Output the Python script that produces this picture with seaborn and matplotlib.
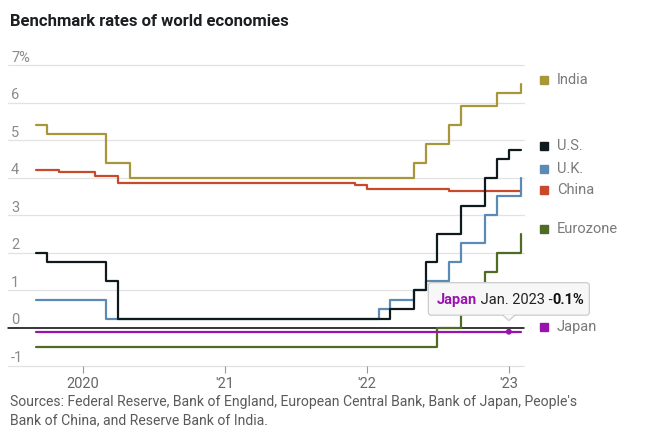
import matplotlib
matplotlib.use("Agg")
import matplotlib.pyplot as plt
import matplotlib.dates as mdates
import matplotlib.transforms as mtransforms
from matplotlib.patches import FancyBboxPatch, Polygon
import seaborn as sns
import pandas as pd

# ---------------- data (monthly values, step changes) ----------------
india_dates = ["2019-09", "2019-10", "2020-03", "2020-05", "2022-05", "2022-06",
               "2022-08", "2022-09", "2022-12", "2023-02"]
india_vals = [5.40, 5.15, 4.40, 4.00, 4.40, 4.90, 5.40, 5.90, 6.25, 6.50]

us_dates = ["2019-09", "2019-10", "2020-03", "2020-04", "2022-03", "2022-05",
            "2022-06", "2022-07", "2022-09", "2022-11", "2022-12", "2023-01", "2023-02"]
us_vals = [2.00, 1.75, 1.25, 0.25, 0.50, 1.00, 1.75, 2.50, 3.25, 4.00, 4.50, 4.75, 4.75]

uk_dates = ["2019-09", "2020-03", "2022-02", "2022-03", "2022-05", "2022-06",
            "2022-08", "2022-09", "2022-11", "2022-12", "2023-02"]
uk_vals = [0.75, 0.25, 0.50, 0.75, 1.00, 1.25, 1.75, 2.25, 3.00, 3.50, 4.00]

china_dates = ["2019-09", "2019-11", "2020-02", "2020-04", "2021-12", "2022-01",
               "2022-08", "2023-02"]
china_vals = [4.20, 4.15, 4.05, 3.85, 3.80, 3.70, 3.65, 3.65]

euro_dates = ["2019-09", "2022-07", "2022-09", "2022-11", "2022-12", "2023-02"]
euro_vals = [-0.50, 0.00, 0.75, 1.50, 2.00, 2.50]

japan_dates = ["2019-09", "2023-02"]
japan_vals = [-0.10, -0.10]

economies = ["Eurozone", "India", "China", "U.K.", "U.S.", "Japan"]
colors = {"India": "#a8963a", "U.S.": "#0f1a1c", "U.K.": "#5b8ab6",
          "China": "#c74a2c", "Eurozone": "#4f6b24", "Japan": "#9a12ae"}

x_ticks = ["2020-01-01", "2021-01-01", "2022-01-01", "2023-01-01"]
x_tick_labels = ["2020", "'21", "'22", "'23"]
y_ticks = [-1, 0, 1, 2, 3, 4, 5, 6, 7]
y_tick_labels = ["-1", "0", "1", "2", "3", "4", "5", "6", "7%"]

# legend label positions (data y)
legend_y = {"India": 6.6, "U.S.": 4.85, "U.K.": 4.23, "China": 3.68,
            "Eurozone": 2.63, "Japan": 0.03}

tooltip_date = "2023-01"

title = "Benchmark rates of world economies"
source_lines = ["Sources: Federal Reserve, Bank of England, European Central Bank, Bank of Japan, People's",
                "Bank of China, and Reserve Bank of India."]

series = {"India": (india_dates, india_vals), "U.S.": (us_dates, us_vals),
          "U.K.": (uk_dates, uk_vals), "China": (china_dates, china_vals),
          "Eurozone": (euro_dates, euro_vals), "Japan": (japan_dates, japan_vals)}

rows = []
for name, (ds, vs) in series.items():
    for d, v in zip(ds, vs):
        rows.append({"date": pd.Timestamp(d), "rate": v, "economy": name})
df = pd.DataFrame(rows)

# ---------------- figure ----------------
sns.set_theme(style="white")
plt.rcParams['font.family'] = ['Roboto', 'DejaVu Sans']

W, H = 646, 446
fig = plt.figure(figsize=(W / 100, H / 100), dpi=100)
ax_l, ax_r, ax_t, ax_b = 8, 524, 65, 365.5
ax = fig.add_axes([ax_l / W, (H - ax_b) / H, (ax_r - ax_l) / W, (ax_b - ax_t) / H])

for v in y_ticks:
    if v == 0:
        continue
    ax.axhline(v, color="#e2e2e2", lw=0.9, zorder=0, clip_on=False)

sns.lineplot(data=df, x="date", y="rate", hue="economy", hue_order=economies,
             palette=colors, drawstyle="steps-post", linewidth=1.6,
             legend=False, errorbar=None, ax=ax, zorder=3)

ax.axhline(0, color="black", lw=1.1, zorder=2, clip_on=False)

ax.set_xlim(pd.Timestamp("2019-06-22"), pd.Timestamp("2023-02-09"))
ax.set_ylim(-1, 7)
for s in ax.spines.values():
    s.set_visible(False)

ax.set_xticks([pd.Timestamp(t) for t in x_ticks])
ax.set_xticklabels(x_tick_labels)
ax.tick_params(axis="x", length=5, width=0.8, color="#999999", labelcolor="#666666",
               labelsize=10.5, pad=3, bottom=True, direction="out")
ax.set_yticks([])
ax.set_xlabel("")
ax.set_ylabel("")

yx = mtransforms.blended_transform_factory(ax.transAxes, ax.transData)
for v, lbl in zip(y_ticks, y_tick_labels):
    ax.annotate(lbl, xy=(0, v), xycoords=yx, xytext=(2.2, 2.5), textcoords="offset points",
                ha="left", va="baseline", fontsize=10.5, color="#8a8a8a")

# legend at right
for name in economies:
    y = legend_y[name]
    ax.plot([1.0385], [y], marker="s", markersize=6.3, color=colors[name],
            transform=yx, clip_on=False, linestyle="none")
    ax.text(1.0635, y, name, transform=yx, ha="left", va="center", fontsize=10.5,
            color="#7a7a7a")

# title and sources
fig.text(10 / W, 1 - 22 / H, title, ha="left", va="center", fontsize=12,
         fontweight="bold", color="#1b1f22")
fig.text(10 / W, 1 - 402 / H, source_lines[0], ha="left", va="center", fontsize=10.1, color="#5a5a5a")
fig.text(10 / W, 1 - 420 / H, source_lines[1], ha="left", va="center", fontsize=10.1, color="#5a5a5a")

# tooltip
td = pd.Timestamp(tooltip_date)
jv = df[(df.economy == "Japan") & (df.date <= td)].sort_values("date").rate.iloc[-1]
sns.scatterplot(x=[td], y=[jv], color=colors["Japan"], s=18, ax=ax, zorder=6,
                edgecolor="none", legend=False)

fig.canvas.draw()
px, py = ax.transData.transform((mdates.date2num(td), jv))
ident = mtransforms.IdentityTransform()
bx0, bx1 = px - 80.5, px + 80.5
by0, by1 = py + 16.5, py + 49
box = FancyBboxPatch((bx0, by0), bx1 - bx0, by1 - by0,
                     boxstyle="round,pad=0,rounding_size=3", fc="#f7f7f7", ec="#cccccc",
                     lw=0.9, transform=ident, clip_on=False, zorder=10)
fig.add_artist(box)
tri = Polygon([(px - 6, by0 + 0.6), (px + 6, by0 + 0.6), (px, by0 - 5.5)], closed=True,
              fc="#f7f7f7", ec="none", transform=ident, clip_on=False, zorder=11)
fig.add_artist(tri)
fig.add_artist(plt.Line2D([px - 6, px, px + 6], [by0, by0 - 5.5, by0], color="#cccccc",
                          lw=0.9, transform=ident, zorder=12))

renderer = fig.canvas.get_renderer()
tx = px - 72
ty = py + 32
pieces = [("Japan", colors["Japan"], "bold"), (" Jan. 2023 -", "#222222", "normal"),
          ("0.1%", "#111111", "bold")]
for txt, col, wt in pieces:
    t = fig.text(0, 0, txt, transform=ident, ha="left", va="center", fontsize=10.5,
                 color=col, fontweight=wt, zorder=13)
    t.set_position((tx, ty))
    bb = t.get_window_extent(renderer)
    tx += bb.width

fig.savefig("out.png", dpi=100)
